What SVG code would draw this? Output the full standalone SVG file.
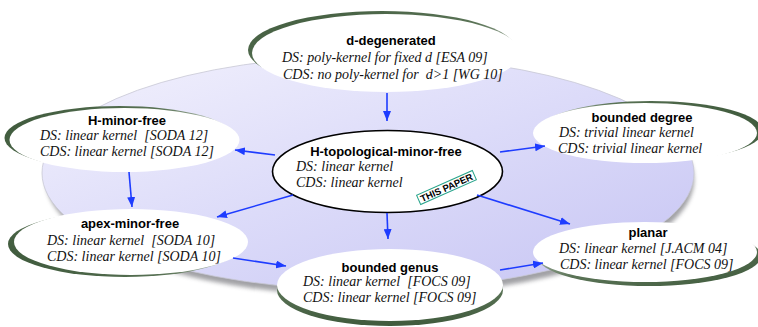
<svg xmlns="http://www.w3.org/2000/svg" width="758" height="327" viewBox="0 0 758 327">
<defs>
<style>
.t{font-family:"Liberation Sans",Arial,sans-serif;font-weight:bold;font-size:13px;fill:#000;text-anchor:middle}
.b{font-family:"Liberation Serif","Times New Roman",serif;font-style:italic;font-size:14px;fill:#111;white-space:pre}
.node{fill:#fff}
.edge{stroke:#1e3cff;stroke-width:1.6;fill:none;marker-end:url(#ah)}
</style>
<linearGradient id="bg" x1="0" y1="0" x2="1" y2="1">
<stop offset="0" stop-color="#f3f2fd"/>
<stop offset="0.5" stop-color="#dcdbf9"/>
<stop offset="1" stop-color="#c6c4f3"/>
</linearGradient>
<linearGradient id="gTL" x1="0" y1="0" x2="1" y2="1"><stop offset="0" stop-color="#3f5a3c"/><stop offset="0.5" stop-color="#5a7356"/><stop offset="1" stop-color="#ffffff"/></linearGradient>
<linearGradient id="gL" x1="0" y1="0.3" x2="1" y2="0.7"><stop offset="0" stop-color="#3f5a3c"/><stop offset="0.5" stop-color="#5a7356"/><stop offset="1" stop-color="#ffffff"/></linearGradient>
<linearGradient id="gR" x1="1" y1="0.3" x2="0" y2="0.7"><stop offset="0" stop-color="#3f5a3c"/><stop offset="0.5" stop-color="#5a7356"/><stop offset="1" stop-color="#ffffff"/></linearGradient>
<linearGradient id="gBL" x1="0" y1="0.7" x2="1" y2="0.3"><stop offset="0" stop-color="#3f5a3c"/><stop offset="0.5" stop-color="#5a7356"/><stop offset="1" stop-color="#ffffff"/></linearGradient>
<linearGradient id="gB" x1="0" y1="1" x2="0" y2="0"><stop offset="0" stop-color="#3f5a3c"/><stop offset="0.5" stop-color="#5a7356"/><stop offset="1" stop-color="#ffffff"/></linearGradient>
<linearGradient id="gBR" x1="1" y1="1" x2="0" y2="0"><stop offset="0" stop-color="#3f5a3c"/><stop offset="0.5" stop-color="#5a7356"/><stop offset="1" stop-color="#ffffff"/></linearGradient>
<filter id="blur" x="-10%" y="-10%" width="120%" height="130%"><feGaussianBlur stdDeviation="2"/></filter>
<marker id="ah" markerUnits="userSpaceOnUse" markerWidth="10" markerHeight="8" refX="10" refY="4" orient="auto">
<path d="M0,0 L10,4 L0,8 z" fill="#1e3cff"/>
</marker>
</defs>

<g id="background">
<ellipse cx="370" cy="180" rx="324" ry="116" fill="#55555c" opacity="0.55" filter="url(#blur)"/>
<ellipse cx="368" cy="173" rx="326" ry="117" fill="url(#bg)" stroke="#c8c8d4" stroke-width="0.8"/>
</g>

<g id="d-degenerated">
<ellipse cx="382" cy="50" rx="134" ry="39" fill="url(#gTL)"/>
<ellipse class="node" cx="386" cy="53" rx="134" ry="39"/>
<text class="t" x="391" y="45">d-degenerated</text>
<text class="b" x="282" y="61.5">DS: poly-kernel for fixed d [ESA 09]</text>
<text class="b" x="283" y="78.5">CDS: no poly-kernel for  d&gt;1 [WG 10]</text>
</g>

<g id="h-minor-free">
<ellipse cx="119.5" cy="138" rx="115" ry="32" fill="url(#gL)"/>
<ellipse class="node" cx="124.5" cy="140" rx="115" ry="32"/>
<text class="t" x="127" y="124.5">H-minor-free</text>
<text class="b" x="40" y="140">DS: linear kernel  [SODA 12]</text>
<text class="b" x="40" y="156">CDS: linear kernel [SODA 12]</text>
</g>

<g id="bounded-degree">
<ellipse cx="651" cy="131" rx="112" ry="30" fill="url(#gR)"/>
<ellipse class="node" cx="645" cy="133" rx="112" ry="30"/>
<text class="t" x="642" y="122">bounded degree</text>
<text class="b" x="559" y="137">DS: trivial linear kernel</text>
<text class="b" x="558" y="153">CDS: trivial linear kernel</text>
</g>

<g id="apex-minor-free">
<ellipse cx="125" cy="244" rx="117" ry="33" fill="url(#gBL)"/>
<ellipse class="node" cx="131" cy="242" rx="117" ry="33"/>
<text class="t" x="130" y="228">apex-minor-free</text>
<text class="b" x="47" y="245">DS: linear kernel  [SODA 10]</text>
<text class="b" x="47" y="261">CDS: linear kernel [SODA 10]</text>
</g>

<g id="bounded-genus">
<ellipse cx="390" cy="290" rx="113" ry="36" fill="url(#gB)"/>
<ellipse class="node" cx="390" cy="285" rx="113" ry="36"/>
<text class="t" x="390" y="272">bounded genus</text>
<text class="b" x="303" y="286">DS: linear kernel  [FOCS 09]</text>
<text class="b" x="303" y="302">CDS: linear kernel [FOCS 09]</text>
</g>

<g id="planar">
<ellipse cx="649" cy="256" rx="112" ry="30" fill="url(#gBR)"/>
<ellipse class="node" cx="645" cy="252" rx="112" ry="30"/>
<text class="t" x="648" y="237">planar</text>
<text class="b" x="559" y="253">DS: linear kernel [J.ACM 04]</text>
<text class="b" x="560" y="269">CDS: linear kernel [FOCS 09]</text>
</g>

<g id="h-topological-minor-free">
<ellipse class="node" cx="387.5" cy="171.5" rx="115" ry="41" stroke="#000" stroke-width="1.6"/>
<text class="t" x="386" y="156">H-topological-minor-free</text>
<text class="b" x="296" y="171">DS: linear kernel</text>
<text class="b" x="296" y="187">CDS: linear kernel</text>
<g transform="translate(446.5,187.5) rotate(-24)">
<rect x="-30.5" y="-5" width="61" height="10" fill="#fff" stroke="#2aa58c" stroke-width="1"/>
<text x="0" y="3.5" style="font-family:'Liberation Sans',Arial,sans-serif;font-weight:bold;font-size:9.5px;text-anchor:middle;fill:#000">THIS PAPER</text>
</g>
</g>

<g id="connectors">
<line class="edge" x1="387" y1="93" x2="387" y2="121"/>
<line class="edge" x1="275" y1="155" x2="235" y2="150"/>
<line class="edge" x1="129" y1="172" x2="132" y2="207"/>
<line class="edge" x1="293" y1="195" x2="217" y2="217"/>
<line class="edge" x1="500" y1="152" x2="545" y2="146"/>
<line class="edge" x1="387" y1="213" x2="388" y2="239"/>
<line class="edge" x1="477" y1="195" x2="570" y2="224"/>
<line class="edge" x1="233" y1="258" x2="286" y2="266"/>
<line class="edge" x1="500" y1="270" x2="543" y2="263"/>
</g>
</svg>
